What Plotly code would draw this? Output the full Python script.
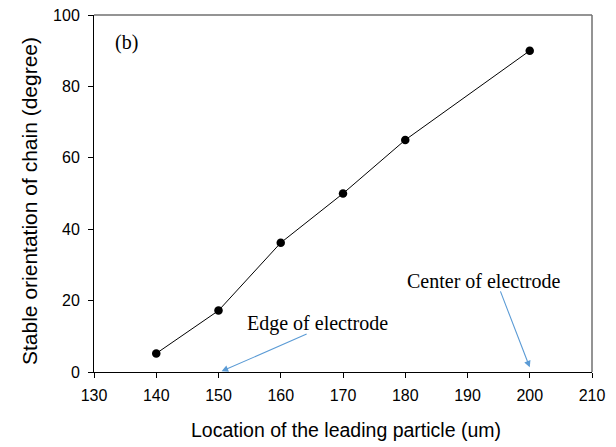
import plotly.graph_objects as go

location = [140, 150, 160, 170, 180, 200]
orientation = [5.2, 17.2, 36.2, 50, 65, 90]
x_ticks = [130, 140, 150, 160, 170, 180, 190, 200, 210]
y_ticks = [0, 20, 40, 60, 80, 100]

fig = go.Figure()
fig.add_trace(go.Scatter(
    x=location, y=orientation, mode="lines+markers",
    line=dict(color="black", width=1),
    marker=dict(color="black", size=8.5),
    showlegend=False,
))

sans = "Arial, Liberation Sans, sans-serif"
axis_font = dict(family=sans, size=16, color="black")
fig.update_xaxes(
    range=[130, 210], tickvals=x_ticks, ticks="outside", ticklen=5, tickcolor="black",
    showline=True, linecolor="black", linewidth=1, showgrid=False, zeroline=False,
    tickfont=axis_font, ticklabelstandoff=4, automargin=False,
)
fig.update_yaxes(
    range=[0, 100], tickvals=y_ticks, ticks="outside", ticklen=5, tickcolor="black",
    showline=True, linecolor="black", linewidth=1, showgrid=False, zeroline=False,
    tickfont=axis_font, ticklabelstandoff=5, automargin=False,
)
fig.add_annotation(
    xref="paper", yref="paper", x=(30 - 94) / 498, y=(372 - 201) / 357,
    text="Stable orientation of chain (degree)", textangle=-90, showarrow=False,
    xanchor="center", yanchor="middle", font=dict(family=sans, size=21, color="black"),
)
fig.add_annotation(
    xref="paper", yref="paper", x=(346 - 94) / 498, y=(372 - 430) / 357,
    text="Location of the leading particle (um)", showarrow=False,
    xanchor="center", yanchor="middle", font=dict(family=sans, size=19.5, color="black"),
)

# gray top and right frame
fig.add_shape(type="line", xref="paper", yref="paper", x0=0, x1=1, y0=1, y1=1, line=dict(color="#707070", width=1.5))
fig.add_shape(type="line", xref="paper", yref="paper", x0=1, x1=1, y0=0, y1=1, line=dict(color="#707070", width=1.5))

times = dict(family="Times New Roman, Liberation Serif, serif", size=20, color="black")
fig.add_annotation(x=135.2, y=92.4, text="(b)", showarrow=False, font=times)
fig.add_annotation(x=165.9, y=13.7, text="Edge of electrode", showarrow=False, font=times)
fig.add_annotation(x=192.6, y=25.5, text="Center of electrode", showarrow=False, font=times)

arrow_color = "#5B9BD5"
fig.add_annotation(x=150.5, y=0.2, ax=164.4, ay=10.8, axref="x", ayref="y", text="",
                   showarrow=True, arrowhead=2, arrowsize=1.2, arrowwidth=1.1, arrowcolor=arrow_color)
fig.add_annotation(x=200, y=1.3, ax=195.2, ay=23.0, axref="x", ayref="y", text="",
                   showarrow=True, arrowhead=2, arrowsize=1.2, arrowwidth=1.1, arrowcolor=arrow_color)

fig.update_layout(
    width=616, height=447,
    margin=dict(l=94, r=24, t=15, b=75),
    plot_bgcolor="white", paper_bgcolor="white",
)
fig.write_html("out.html")
